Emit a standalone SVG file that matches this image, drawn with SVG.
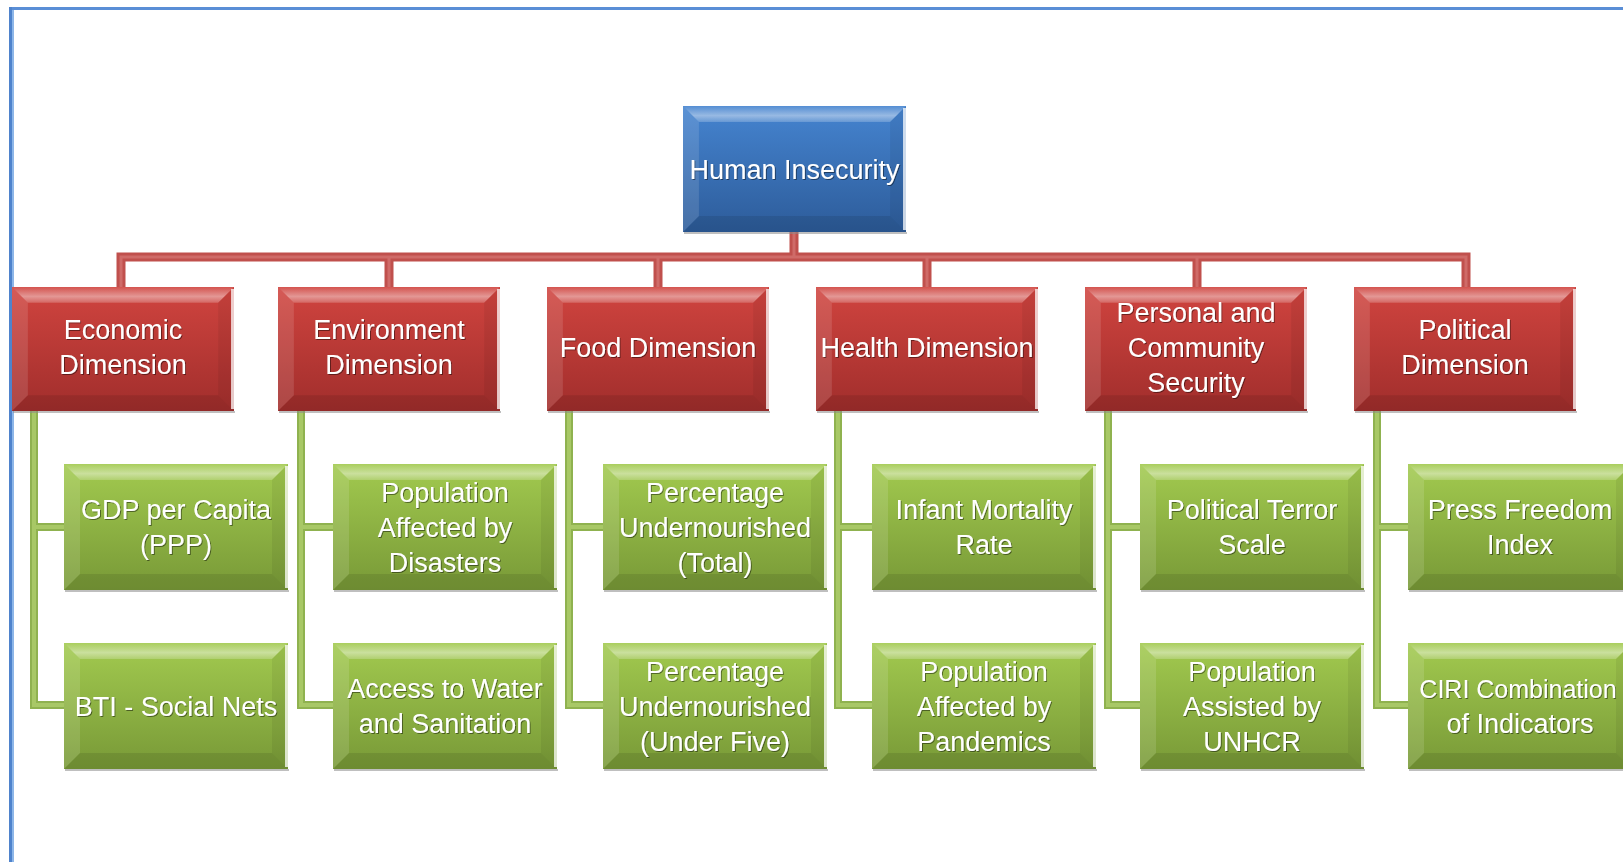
<svg xmlns="http://www.w3.org/2000/svg" xmlns:xlink="http://www.w3.org/1999/xlink" width="1623" height="862" viewBox="0 0 1623 862">
<style>
  text { font-family: "Liberation Sans", Arial, sans-serif; font-size: 27px; fill: #ffffff; text-anchor: middle; filter: url(#tsh); }
  .cr-o { fill: none; stroke: #C0504D; stroke-width: 9; }
  .cr-i { fill: none; stroke: #CF6B68; stroke-width: 3; }
  .cg-o { fill: none; stroke: #8FB24F; stroke-width: 8; }
  .cg-i { fill: none; stroke: #A8C866; stroke-width: 4; }
  .shadow { fill: #8a8a8a; opacity: 0.55; }
</style>
<defs>
  <linearGradient id="gBlue" x1="0" y1="0" x2="0" y2="1">
    <stop offset="0" stop-color="#4584D0"/>
    <stop offset="1" stop-color="#2D5C9A"/>
  </linearGradient>
  <linearGradient id="gRed" x1="0" y1="0" x2="0" y2="1">
    <stop offset="0" stop-color="#D0443F"/>
    <stop offset="1" stop-color="#A12E2C"/>
  </linearGradient>
  <linearGradient id="gGreen" x1="0" y1="0" x2="0" y2="1">
    <stop offset="0" stop-color="#A2CA4F"/>
    <stop offset="1" stop-color="#789937"/>
  </linearGradient>
  <linearGradient id="gTop" x1="0" y1="0" x2="0" y2="1">
    <stop offset="0" stop-color="#ffffff" stop-opacity="0.08"/>
    <stop offset="0.6" stop-color="#ffffff" stop-opacity="0.45"/>
    <stop offset="1" stop-color="#ffffff" stop-opacity="0.2"/>
  </linearGradient>
  <filter id="tsh" x="-10%" y="-30%" width="120%" height="160%">
    <feDropShadow dx="1" dy="1" stdDeviation="0.6" flood-color="#000000" flood-opacity="0.45"/>
  </filter>
  <symbol id="bevel" viewBox="0 0 224 126" preserveAspectRatio="none">
    <polygon points="0,0 224,0 208,16 16,16" fill="url(#gTop)"/>
    <polygon points="0,0 16,16 16,110 0,126" fill="#ffffff" opacity="0.12"/>
    <polygon points="224,0 224,126 208,110 208,16" fill="#000000" opacity="0.06"/>
    <polygon points="0,126 16,110 208,110 224,126" fill="#000000" opacity="0.09"/>
    <rect x="221" y="2" width="3" height="122" fill="#ffffff" opacity="0.75"/>
  </symbol>
</defs>

<rect x="0" y="0" width="1623" height="862" fill="#ffffff"/>
<g id="frame">
  <line x1="9" y1="8.5" x2="1623" y2="8.5" stroke="#5A8ED6" stroke-width="3"/>
  <line x1="10.5" y1="7" x2="10.5" y2="862" stroke="#4F83CC" stroke-width="3"/>
  <line x1="13" y1="10" x2="13" y2="862" stroke="#8DB6E8" stroke-width="2"/>
</g>

<g id="connectors">
  <path class="cr-o" d="M794,232 V257 M121,287 V257 H1466 V287 M389,257 V287 M658,257 V287 M927,257 V287 M1197,257 V287"/>
  <path class="cr-i" d="M794,232 V257 M121,287 V257 H1466 V287 M389,257 V287 M658,257 V287 M927,257 V287 M1197,257 V287"/>
  <path class="cg-o" d="M34,411 V705 H64 M34,527 H64 M301,411 V705 H333 M301,527 H333 M569,411 V705 H603 M569,527 H603 M838,411 V705 H872 M838,527 H872 M1108,411 V705 H1140 M1108,527 H1140 M1377,411 V705 H1408 M1377,527 H1408"/>
  <path class="cg-i" d="M34,411 V705 H64 M34,527 H64 M301,411 V705 H333 M301,527 H333 M569,411 V705 H603 M569,527 H603 M838,411 V705 H872 M838,527 H872 M1108,411 V705 H1140 M1108,527 H1140 M1377,411 V705 H1408 M1377,527 H1408"/>
</g>

<g id="n-human">
  <rect class="shadow" x="684" y="232" width="223" height="2"/>
  <rect x="683" y="106" width="223" height="126" fill="url(#gBlue)"/>
  <use href="#bevel" x="683" y="106" width="223" height="126"/>
  <text x="794.5" y="178.5">Human Insecurity</text>
</g>

<g id="n-economic">
  <rect class="shadow" x="13" y="411" width="222" height="2"/>
  <rect x="12" y="287" width="222" height="124" fill="url(#gRed)"/>
  <use href="#bevel" x="12" y="287" width="222" height="124"/>
  <text x="123" y="339">Economic</text>
  <text x="123" y="374">Dimension</text>
</g>
<g id="n-environment">
  <rect class="shadow" x="279" y="411" width="222" height="2"/>
  <rect x="278" y="287" width="222" height="124" fill="url(#gRed)"/>
  <use href="#bevel" x="278" y="287" width="222" height="124"/>
  <text x="389" y="339">Environment</text>
  <text x="389" y="374">Dimension</text>
</g>
<g id="n-food">
  <rect class="shadow" x="548" y="411" width="222" height="2"/>
  <rect x="547" y="287" width="222" height="124" fill="url(#gRed)"/>
  <use href="#bevel" x="547" y="287" width="222" height="124"/>
  <text x="658" y="356.5">Food Dimension</text>
</g>
<g id="n-health">
  <rect class="shadow" x="817" y="411" width="222" height="2"/>
  <rect x="816" y="287" width="222" height="124" fill="url(#gRed)"/>
  <use href="#bevel" x="816" y="287" width="222" height="124"/>
  <text x="927" y="356.5">Health Dimension</text>
</g>
<g id="n-personal">
  <rect class="shadow" x="1086" y="411" width="222" height="2"/>
  <rect x="1085" y="287" width="222" height="124" fill="url(#gRed)"/>
  <use href="#bevel" x="1085" y="287" width="222" height="124"/>
  <text x="1196" y="321.5">Personal and</text>
  <text x="1196" y="356.5">Community</text>
  <text x="1196" y="391.5">Security</text>
</g>
<g id="n-political">
  <rect class="shadow" x="1355" y="411" width="222" height="2"/>
  <rect x="1354" y="287" width="222" height="124" fill="url(#gRed)"/>
  <use href="#bevel" x="1354" y="287" width="222" height="124"/>
  <text x="1465" y="339">Political</text>
  <text x="1465" y="374">Dimension</text>
</g>

<g id="n-gdp">
  <rect class="shadow" x="65" y="590" width="224" height="2"/>
  <rect x="64" y="464" width="224" height="126" fill="url(#gGreen)"/>
  <use href="#bevel" x="64" y="464" width="224" height="126"/>
  <text x="176" y="519">GDP per Capita</text>
  <text x="176" y="554">(PPP)</text>
</g>
<g id="n-bti">
  <rect class="shadow" x="65" y="769" width="224" height="2"/>
  <rect x="64" y="643" width="224" height="126" fill="url(#gGreen)"/>
  <use href="#bevel" x="64" y="643" width="224" height="126"/>
  <text x="176" y="715.5">BTI - Social Nets</text>
</g>
<g id="n-disasters">
  <rect class="shadow" x="334" y="590" width="224" height="2"/>
  <rect x="333" y="464" width="224" height="126" fill="url(#gGreen)"/>
  <use href="#bevel" x="333" y="464" width="224" height="126"/>
  <text x="445" y="501.5">Population</text>
  <text x="445" y="536.5">Affected by</text>
  <text x="445" y="571.5">Disasters</text>
</g>
<g id="n-water">
  <rect class="shadow" x="334" y="769" width="224" height="2"/>
  <rect x="333" y="643" width="224" height="126" fill="url(#gGreen)"/>
  <use href="#bevel" x="333" y="643" width="224" height="126"/>
  <text x="445" y="698">Access to Water</text>
  <text x="445" y="733">and Sanitation</text>
</g>
<g id="n-under-total">
  <rect class="shadow" x="604" y="590" width="224" height="2"/>
  <rect x="603" y="464" width="224" height="126" fill="url(#gGreen)"/>
  <use href="#bevel" x="603" y="464" width="224" height="126"/>
  <text x="715" y="501.5">Percentage</text>
  <text x="715" y="536.5">Undernourished</text>
  <text x="715" y="571.5">(Total)</text>
</g>
<g id="n-under-five">
  <rect class="shadow" x="604" y="769" width="224" height="2"/>
  <rect x="603" y="643" width="224" height="126" fill="url(#gGreen)"/>
  <use href="#bevel" x="603" y="643" width="224" height="126"/>
  <text x="715" y="680.5">Percentage</text>
  <text x="715" y="715.5">Undernourished</text>
  <text x="715" y="750.5">(Under Five)</text>
</g>
<g id="n-infant">
  <rect class="shadow" x="873" y="590" width="224" height="2"/>
  <rect x="872" y="464" width="224" height="126" fill="url(#gGreen)"/>
  <use href="#bevel" x="872" y="464" width="224" height="126"/>
  <text x="984" y="519">Infant Mortality</text>
  <text x="984" y="554">Rate</text>
</g>
<g id="n-pandemics">
  <rect class="shadow" x="873" y="769" width="224" height="2"/>
  <rect x="872" y="643" width="224" height="126" fill="url(#gGreen)"/>
  <use href="#bevel" x="872" y="643" width="224" height="126"/>
  <text x="984" y="680.5">Population</text>
  <text x="984" y="715.5">Affected by</text>
  <text x="984" y="750.5">Pandemics</text>
</g>
<g id="n-terror">
  <rect class="shadow" x="1141" y="590" width="224" height="2"/>
  <rect x="1140" y="464" width="224" height="126" fill="url(#gGreen)"/>
  <use href="#bevel" x="1140" y="464" width="224" height="126"/>
  <text x="1252" y="519">Political Terror</text>
  <text x="1252" y="554">Scale</text>
</g>
<g id="n-unhcr">
  <rect class="shadow" x="1141" y="769" width="224" height="2"/>
  <rect x="1140" y="643" width="224" height="126" fill="url(#gGreen)"/>
  <use href="#bevel" x="1140" y="643" width="224" height="126"/>
  <text x="1252" y="680.5">Population</text>
  <text x="1252" y="715.5">Assisted by</text>
  <text x="1252" y="750.5">UNHCR</text>
</g>
<g id="n-press">
  <rect class="shadow" x="1409" y="590" width="224" height="2"/>
  <rect x="1408" y="464" width="224" height="126" fill="url(#gGreen)"/>
  <use href="#bevel" x="1408" y="464" width="224" height="126"/>
  <text x="1520" y="519">Press Freedom</text>
  <text x="1520" y="554">Index</text>
</g>
<g id="n-ciri">
  <rect class="shadow" x="1409" y="769" width="224" height="2"/>
  <rect x="1408" y="643" width="224" height="126" fill="url(#gGreen)"/>
  <use href="#bevel" x="1408" y="643" width="224" height="126"/>
  <text x="1518" y="698" style="font-size:25px">CIRI Combination</text>
  <text x="1520" y="733">of Indicators</text>
</g>
</svg>
